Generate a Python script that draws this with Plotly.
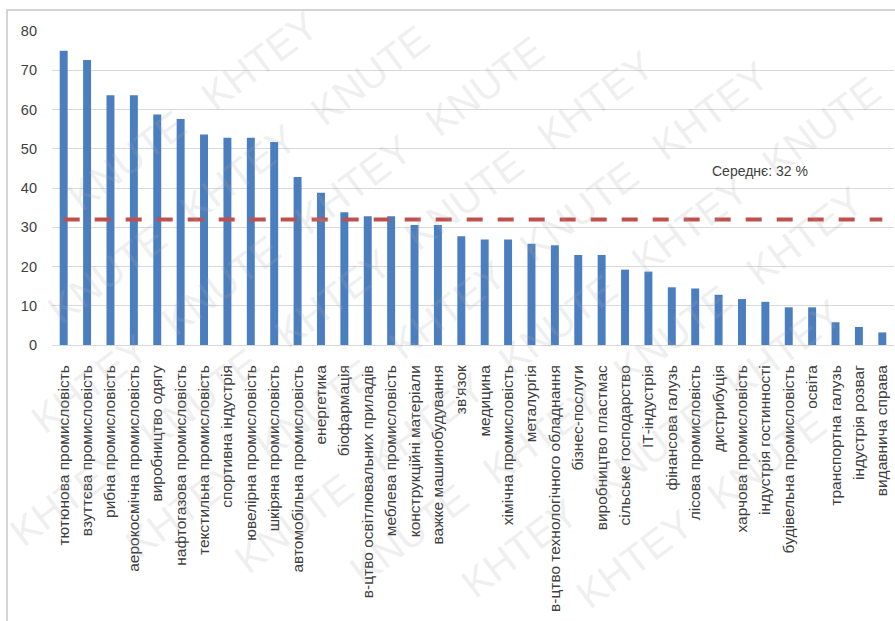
import math
import plotly.graph_objects as go

categories = [
    "тютюнова промисловість", "взуттєва промисловість", "рибна промисловість",
    "аерокосмічна промисловість", "виробництво одягу", "нафтогазова промисловість",
    "текстильна промисловість", "спортивна індустрія", "ювелірна промисловість",
    "шкіряна промисловість", "автомобільна промисловість", "енергетика",
    "біофармація", "в-цтво освітлювальних приладів", "меблева промисловість",
    "конструкційні матеріали", "важке машинобудування", "зв'язок",
    "медицина", "хімічна промисловість", "металургія",
    "в-цтво технологічного обладнання", "бізнес-послуги", "виробництво пластмас",
    "сільське господарство", "ІТ-індустрія", "фінансова галузь",
    "лісова промисловість", "дистрибуція", "харчова промисловість",
    "індустрія гостинності", "будівельна промисловість", "освіта",
    "транспортна галузь", "індустрія розваг", "видавнича справа",
]
values = [
    75, 72.6, 63.6, 63.6, 58.7, 57.6,
    53.6, 52.8, 52.8, 51.7, 42.8, 38.8,
    33.8, 32.8, 32.8, 30.6, 30.6, 27.7,
    26.9, 26.9, 25.8, 25.4, 22.9, 22.9,
    19.2, 18.7, 14.7, 14.4, 12.8, 11.7,
    11.0, 9.6, 9.6, 5.8, 4.6, 3.2,
]
average = 32
avg_label = "Середнє: 32 %"
y_ticks = [0, 10, 20, 30, 40, 50, 60, 70, 80]
watermark_words = ["KHTEY", "KNUTE"]

W, H = 895, 621
L, R, T, B = 52, 1, 31, 276
pw, ph = W - L - R, H - T - B
FONT = "Liberation Sans, Arial, sans-serif"


def px(x):
    return (x - L) / pw


def py(y):
    return (H - B - y) / ph


fig = go.Figure()
fig.add_trace(go.Bar(
    x=categories, y=values,
    marker=dict(color="#4a7ebf", line=dict(width=0)),
    width=0.34,
    showlegend=False,
))
fig.add_trace(go.Scatter(
    x=categories, y=[average] * len(categories),
    mode="lines",
    line=dict(color="#c0504d", width=4, dash="16px,15px"),
    showlegend=False,
))

annotations = [dict(
    x=px(760), y=py(171), xref="paper", yref="paper",
    xanchor="center", yanchor="middle",
    text=avg_label, showarrow=False,
    font=dict(family=FONT, size=14, color="#404040"),
)]

# watermark: light diagonal words on a lattice, kept fully inside the picture
ang = math.radians(37)
u = (math.cos(ang), -math.sin(ang))
v = (math.sin(ang), math.cos(ang))
step_u, step_v = 165, 78
wl, wh = 135, 36
hx = 0.5 * (wl * abs(u[0]) + wh * abs(v[0]))
hy = 0.5 * (wl * abs(u[1]) + wh * abs(v[1]))
for j in range(-14, 15):
    for i in range(-14, 15):
        cx = 447 + i * step_u * u[0] + j * step_v * v[0] + (j % 2) * 80 * u[0]
        cy = 310 + i * step_u * u[1] + j * step_v * v[1] + (j % 2) * 80 * u[1]
        if hx + 2 <= cx <= W - hx - 2 and hy + 2 <= cy <= H - hy - 2:
            annotations.append(dict(
                x=px(cx), y=py(cy), xref="paper", yref="paper",
                xanchor="center", yanchor="middle",
                text=watermark_words[(i + j) % 2], showarrow=False, textangle=-37,
                font=dict(family=FONT, size=40, color="rgba(170,170,170,0.2)"),
            ))

fig.update_layout(
    width=W, height=H,
    margin=dict(l=L, r=R, t=T, b=B, pad=0),
    paper_bgcolor="white", plot_bgcolor="white",
    bargap=0.66,
    annotations=annotations,
    shapes=[dict(
        type="rect", xref="paper", yref="paper",
        x0=px(7), x1=px(905), y0=py(640), y1=py(10),
        line=dict(color="#c8c8c8", width=1.5), fillcolor="rgba(0,0,0,0)",
        layer="below",
    )],
    xaxis=dict(
        type="category", tickangle=-90,
        tickfont=dict(family=FONT, size=15.5, color="#404040"),
        showgrid=False, showline=True, linecolor="#d9d9d9", linewidth=1,
        ticks="", ticklabelstandoff=13,
        range=[-0.5, len(categories) - 0.5],
    ),
    yaxis=dict(
        range=[0, 80], tickvals=y_ticks,
        tickfont=dict(family=FONT, size=14.5, color="#404040"),
        showgrid=True, gridcolor="#d9d9d9", gridwidth=1,
        zeroline=False, ticks="", ticklabelstandoff=14,
    ),
)

fig.write_html("out.html")
